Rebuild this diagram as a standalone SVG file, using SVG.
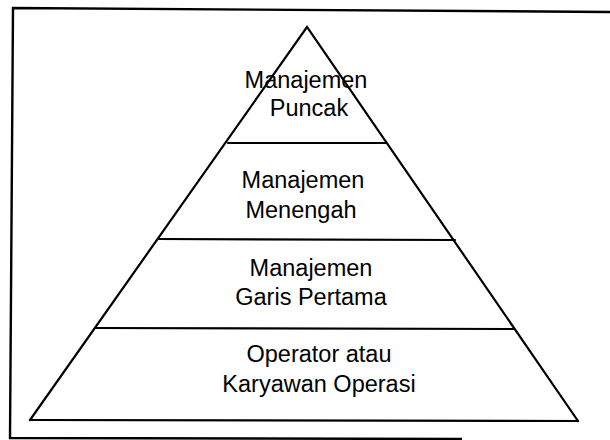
<svg xmlns="http://www.w3.org/2000/svg" width="610" height="440" viewBox="0 0 610 440">
  <style>
    .frame { fill: none; stroke: #000; stroke-width: 2.4; }
    .edge { fill: none; stroke: #000; stroke-width: 2.2; stroke-linecap: round; }
    .lbl { font-family: "Liberation Sans", Arial, sans-serif; font-size: 23.5px; fill: #000; text-anchor: middle; }
  </style>
  <rect x="0" y="0" width="610" height="440" fill="#fff"/>
  <path class="frame" d="M 611,12 L 13,8 L 10,438 L 462,439"/>
  <g id="connectors">
    <path class="edge" d="M 30,420 L 307,27 L 578,421"/>
    <line class="edge" x1="30" y1="420" x2="578" y2="421"/>
    <line class="edge" x1="228" y1="143" x2="386" y2="143"/>
    <line class="edge" x1="158" y1="239" x2="455" y2="240"/>
    <line class="edge" x1="95" y1="328" x2="514" y2="329"/>
  </g>
  <g id="tier-top">
    <text class="lbl" x="306" y="88">Manajemen</text>
    <text class="lbl" x="309" y="116">Puncak</text>
  </g>
  <g id="tier-middle">
    <text class="lbl" x="303" y="188">Manajemen</text>
    <text class="lbl" x="301" y="218">Menengah</text>
  </g>
  <g id="tier-first-line">
    <text class="lbl" x="311" y="276">Manajemen</text>
    <text class="lbl" x="311" y="305">Garis Pertama</text>
  </g>
  <g id="tier-operator">
    <text class="lbl" x="319" y="362">Operator atau</text>
    <text class="lbl" x="319" y="392">Karyawan Operasi</text>
  </g>
</svg>
